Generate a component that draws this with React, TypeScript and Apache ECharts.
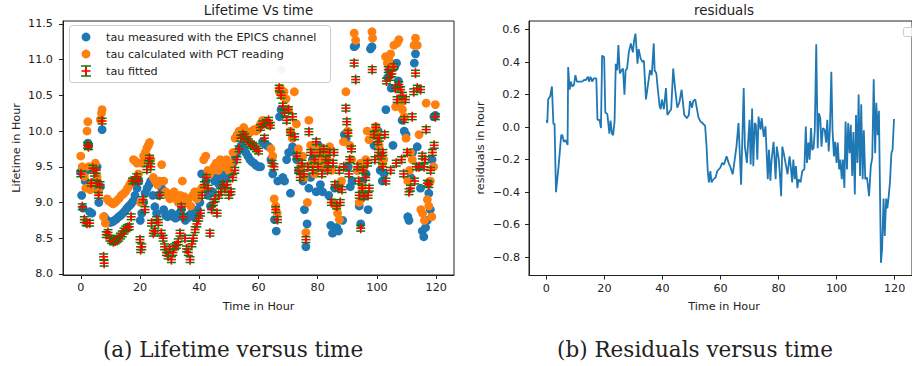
import React, { useEffect, useRef } from "react";
import * as echarts from "echarts";

// ---- data ----
const xTicks = [0, 20, 40, 60, 80, 100, 120];
const lifetimeTicks = [8.0, 8.5, 9.0, 9.5, 10.0, 10.5, 11.0, 11.5];
const residualTicks = [-0.8, -0.6, -0.4, -0.2, 0.0, 0.2, 0.4, 0.6];

const measured: [number, number][] = [
  [0, 9.43], [0.3, 9.1], [0.8, 8.92], [1.5, 9.3], [2.1, 9.45], [2.4, 9.83], [2.7, 9.8], [3.0, 8.87], [3.7, 8.85], [4.3, 9.2],
  [5.0, 9.3], [5.5, 9.5], [5.8, 9.18], [6.1, 9.0], [6.6, 9.22], [7.2, 10.02], [7.9, 8.8], [8.6, 8.76], [9.3, 8.74], [10, 8.72],
  [10.7, 8.73], [11.4, 8.75], [12.1, 8.77], [12.8, 8.8], [13.5, 8.82], [14.2, 8.85], [14.9, 8.88], [15.6, 8.92], [16.3, 8.95], [17, 8.98],
  [17.7, 9.02], [18.3, 9.1], [19, 9.2], [19.6, 9.3], [20.1, 8.75], [20.6, 8.85], [21.2, 9.0], [21.7, 9.13], [22.4, 9.2], [23.1, 9.25],
  [23.6, 9.3], [24.3, 9.1], [25, 8.94], [25.6, 8.85], [26.2, 9.1], [26.7, 9.3], [27.3, 9.2], [28, 8.9], [28.6, 8.82], [29.3, 8.8],
  [30, 8.82], [30.7, 8.85], [31.3, 8.8], [32, 8.78], [32.6, 8.82], [33.3, 8.85], [34, 8.9], [34.6, 8.8], [35.3, 8.75], [36, 8.78],
  [36.7, 8.82], [37.4, 8.85], [38, 8.8], [38.7, 8.85], [39.4, 8.9], [40.2, 9.0], [40.8, 9.4], [41.5, 9.2], [42.3, 9.3], [43, 9.1],
  [43.8, 8.95], [44.5, 9.15], [45.2, 9.3], [46, 9.35], [46.7, 9.25], [47.4, 9.3], [48.2, 9.4], [49, 9.35], [49.8, 9.45], [50.5, 9.4],
  [51.3, 9.55], [52, 9.65], [52.8, 9.7], [53.5, 9.75], [54.2, 9.8], [55, 9.75], [55.7, 9.7], [56.4, 9.65], [57.1, 9.6], [57.8, 9.57],
  [58.5, 9.55], [59.2, 9.52], [60, 9.5], [60.7, 9.5], [61.4, 9.85], [62.1, 9.82], [62.8, 9.8], [63.5, 9.78], [64.2, 9.6], [64.8, 9.4],
  [65.4, 8.76], [66, 8.6], [66.5, 9.3], [67.1, 10.2], [67.6, 10.3], [68.2, 9.35], [68.8, 9.3], [69.5, 9.6], [70.2, 9.7], [70.8, 9.13],
  [71.5, 9.78], [72.2, 9.72], [72.9, 9.6], [73.6, 9.45], [74.3, 9.5], [75, 9.3], [75.5, 8.9], [76, 8.38], [76.4, 8.7], [77, 9.2],
  [77.6, 9.35], [78.2, 9.6], [78.8, 9.7], [79.5, 9.15], [80.2, 9.8], [80.9, 9.25], [81.6, 9.15], [82.3, 9.5], [83, 9.6], [83.7, 9.1],
  [84.4, 8.68], [85, 8.57], [85.7, 9.2], [86.4, 8.65], [87, 8.6], [87.7, 9.28], [88.4, 8.75], [89, 9.95], [89.6, 9.9], [90.3, 9.5],
  [91, 9.22], [91.6, 9.3], [92.3, 11.18], [92.8, 11.2], [93.4, 9.45], [94, 8.95], [94.5, 8.7], [95.1, 9.3], [95.7, 9.55], [96.3, 9.4],
  [97, 8.9], [97.8, 11.15], [98.3, 11.18], [99, 9.8], [99.7, 9.95], [100.4, 10.0], [101.1, 9.45], [101.8, 9.3], [102.4, 9.4], [103, 10.3],
  [103.6, 10.75], [104.2, 10.85], [104.8, 10.6], [105.4, 9.8], [106, 10.9], [106.6, 10.95], [107.2, 10.7], [107.8, 10.4], [108.5, 10.15], [109.2, 10.0],
  [109.8, 9.95], [110.4, 8.8], [110.8, 8.75], [111.4, 9.35], [112, 9.7], [112.6, 10.95], [113, 11.08], [113.6, 9.78], [114.2, 9.5], [114.7, 9.2],
  [115.3, 8.6], [115.8, 8.52], [116.4, 8.65], [117, 8.75], [117.5, 9.13], [118, 8.9], [118.6, 9.6], [119.2, 10.2], [119.7, 10.22],
];
const measuredFaint: [number, number][] = [[67.7, 10.86]];

const calculated: [number, number][] = [
  [0, 9.65], [0.5, 9.5], [1.2, 9.36], [1.7, 9.2], [2.1, 10.0], [2.4, 10.13], [2.7, 9.5], [3.2, 9.18], [3.7, 9.25], [4.1, 9.5],
  [4.9, 9.55], [5.5, 9.36], [6, 9.15], [6.6, 10.16], [7.0, 10.25], [7.2, 10.3], [7.7, 8.8], [8.3, 8.71], [8.9, 9.05], [9.5, 9.02],
  [10.2, 9.0], [10.9, 8.98], [11.6, 9.0], [12.3, 9.03], [13, 9.06], [13.7, 9.1], [14.4, 9.12], [15.1, 9.15], [15.8, 9.2], [16.5, 9.25],
  [17.2, 9.3], [17.8, 9.6], [18.4, 9.58], [19, 9.55], [19.5, 9.4], [20.2, 9.0], [20.5, 9.55], [21.2, 9.65], [21.8, 9.7], [22.3, 9.76],
  [22.8, 9.8], [23.2, 9.84], [23.7, 9.6], [24.5, 9.35], [25.2, 9.3], [25.9, 9.25], [26.5, 9.3], [27.3, 9.53], [28, 9.3], [28.7, 9.15],
  [29.4, 9.1], [30.1, 9.05], [30.8, 9.1], [31.5, 9.15], [32.2, 9.05], [32.9, 9.0], [33.6, 9.1], [34.3, 9.3], [35, 9.08], [35.7, 9.0],
  [36.4, 9.05], [37.1, 8.95], [37.8, 9.1], [38.5, 9.15], [39.2, 9.05], [40, 9.15], [40.8, 9.2], [41.5, 9.6], [42.2, 9.65], [42.9, 9.45],
  [43.6, 9.4], [44.3, 9.45], [45, 9.5], [45.7, 9.55], [46.4, 9.45], [47.1, 9.6], [47.8, 9.55], [48.5, 9.5], [49.2, 9.6], [50, 9.45],
  [50.7, 9.55], [51.4, 9.7], [52.1, 9.9], [52.8, 9.95], [53.5, 10.0], [54.2, 9.98], [55, 10.05], [55.7, 10.0], [56.4, 9.95], [57.1, 9.98],
  [57.8, 10.0], [58.5, 10.02], [59.2, 10.0], [60, 10.05], [60.7, 10.1], [61.4, 10.15], [62.1, 10.1], [62.8, 10.12], [63.5, 10.08], [64.2, 9.75],
  [64.8, 9.65], [65.3, 9.05], [65.8, 8.95], [66.3, 8.85], [67, 10.55], [67.4, 10.6], [68, 10.5], [68.6, 10.55], [69.3, 10.45], [70, 10.3],
  [70.7, 10.0], [71.4, 9.9], [72.1, 10.55], [72.8, 10.1], [73.5, 9.75], [74.2, 9.5], [74.9, 9.65], [75.5, 9.35], [76, 8.58], [76.5, 9.0],
  [77, 10.15], [77.6, 9.8], [78.3, 9.55], [79, 9.4], [79.7, 9.7], [80.4, 9.75], [81.1, 9.6], [81.8, 9.5], [82.5, 9.7], [83.3, 9.6],
  [84, 9.78], [84.7, 9.45], [85.4, 9.0], [86.1, 8.95], [86.7, 8.85], [87.3, 8.76], [88, 9.3], [88.7, 9.85], [89.5, 10.55], [90.1, 10.0],
  [90.8, 9.8], [91.5, 9.6], [92.3, 11.37], [92.8, 11.27], [93.4, 9.45], [94, 9.0], [94.5, 9.55], [95, 9.22], [95.6, 9.5], [96.2, 9.6],
  [96.7, 10.0], [97.3, 9.88], [98.3, 11.39], [98.5, 11.3], [99.1, 9.95], [99.6, 10.06], [100.1, 9.97], [100.7, 9.8], [101.2, 9.64], [101.8, 9.55],
  [102.3, 9.6], [102.9, 11.04], [103.5, 10.95], [104, 11.0], [104.6, 11.08], [105.2, 10.9], [105.7, 11.2], [106.3, 10.34], [106.8, 11.23], [107.4, 11.28],
  [108, 10.39], [108.6, 10.3], [109.2, 10.2], [109.8, 9.9], [110.4, 9.3], [111, 9.45], [111.3, 9.7], [111.9, 9.6], [112.5, 11.2], [113, 11.3],
  [113.6, 11.2], [114.2, 9.95], [114.8, 8.9], [115.4, 8.85], [116, 8.75], [116.6, 10.39], [117, 9.04], [117.5, 8.95], [118, 9.3], [118.5, 8.8],
  [119.1, 9.5], [119.7, 10.37],
];

const fitted: [number, number][] = [
  [0, 9.4], [0.5, 8.94], [1.2, 8.76], [1.8, 8.72], [2.1, 8.71], [2.3, 9.8], [2.6, 9.78], [3, 8.71], [3.5, 9.27], [4.1, 9.48],
  [4.6, 9.41], [5.2, 9.45], [5.5, 9.27], [6, 9.1], [6.5, 9.25], [7.2, 10.14], [7.7, 8.24], [7.9, 8.15], [8.6, 8.55], [9.2, 8.58],
  [9.8, 8.5], [10.4, 8.47], [11, 8.45], [11.6, 8.46], [12.2, 8.48], [12.8, 8.5], [13.4, 8.53], [14, 8.56], [14.6, 8.6], [15.2, 8.63],
  [15.8, 8.65], [16.4, 8.66], [17, 8.8], [17.5, 9.3], [18.3, 9.32], [18.9, 9.36], [19.4, 9.3], [20, 8.48], [20.2, 8.34], [20.6, 8.38],
  [21, 9.04], [21.7, 8.9], [22.3, 9.46], [22.8, 9.55], [23.2, 9.62], [23.6, 9.5], [23.9, 8.71], [24.5, 8.57], [25, 8.6], [25.6, 8.76],
  [26.2, 8.72], [26.7, 9.1], [27.2, 8.57], [27.8, 8.5], [28.3, 8.38], [28.9, 8.3], [29.5, 8.25], [30, 8.35], [30.6, 8.2], [31.1, 8.3],
  [31.7, 8.38], [32.3, 8.4], [32.9, 8.45], [33.5, 8.57], [34, 8.94], [34.6, 8.8], [35.2, 8.5], [35.7, 8.35], [36.3, 8.3], [36.9, 8.2],
  [37.5, 8.42], [38, 8.5], [38.6, 8.62], [39.2, 8.7], [39.8, 8.78], [40.4, 8.85], [41, 9.1], [41.7, 9.25], [42.4, 9.35], [43, 9.2],
  [43.6, 8.57], [44.2, 8.9], [44.8, 9.0], [45.4, 9.05], [46, 8.85], [46.6, 9.1], [47.3, 9.15], [48, 9.25], [48.7, 9.2], [49.4, 9.25],
  [50, 9.1], [50.7, 9.15], [51.3, 9.35], [52, 9.45], [52.7, 9.6], [53.4, 9.75], [54, 9.9], [54.7, 9.95], [55.3, 9.92], [56, 9.88],
  [56.6, 9.85], [57.3, 9.82], [58, 9.8], [58.6, 9.78], [59.3, 9.75], [60, 9.72], [60.7, 10.05], [61.4, 10.1], [62, 9.9], [62.7, 10.12],
  [63.4, 10.15], [64, 10.08], [64.6, 9.55], [65.2, 9.5], [65.8, 8.9], [66.4, 8.76], [67, 10.6], [67.6, 10.5], [68.2, 10.35], [68.8, 10.25],
  [69.5, 10.15], [70.1, 10.3], [70.8, 9.98], [71.5, 10.2], [72.2, 9.92], [72.9, 9.65], [73.5, 9.45], [74.1, 9.35], [74.7, 9.55], [75.3, 9.4],
  [76, 8.48], [76.6, 9.5], [77, 9.99], [77.6, 9.7], [78.3, 9.45], [78.9, 9.6], [79.5, 9.85], [80.1, 9.5], [80.7, 9.7], [81.4, 9.4],
  [82, 9.75], [82.7, 9.6], [83.3, 9.45], [83.6, 9.55], [84, 9.7], [84.6, 9.0], [85.2, 9.55], [85.5, 9.7], [85.8, 9.25], [86.4, 8.95],
  [87, 9.2], [87.3, 9.45], [87.6, 9.0], [88.2, 9.18], [88.8, 9.5], [89.5, 10.32], [89.8, 10.13], [90.2, 9.97], [90.5, 9.4], [90.8, 9.6],
  [91.4, 9.75], [92.3, 10.95], [92.8, 10.72], [93.4, 9.5], [93.8, 9.3], [94, 9.1], [94.5, 8.64], [95, 9.2], [95.3, 9.45], [95.6, 9.08],
  [96.2, 9.35], [96.8, 9.55], [97, 9.1], [97.4, 9.2], [98.4, 10.86], [99, 9.95], [99.3, 9.6], [99.6, 10.05], [100.2, 9.85], [100.5, 9.7],
  [100.8, 9.9], [101.4, 9.65], [101.9, 9.5], [102, 9.7], [102.6, 9.95], [103, 9.3], [103.2, 10.7], [103.8, 10.86], [104.4, 10.75], [104.6, 9.45],
  [105, 10.8], [105.6, 10.9], [106.2, 10.6], [106.5, 9.55], [106.8, 10.44], [107.4, 10.65], [108, 10.58], [108.3, 9.6], [108.6, 10.5], [109, 9.4],
  [109.2, 10.16], [109.6, 10.44], [110.2, 9.7], [110.8, 9.15], [111.3, 9.2], [111.9, 10.2], [112.4, 10.55], [112.7, 9.3], [113, 10.81], [113.3, 9.5],
  [113.6, 10.6], [114.2, 9.5], [114.7, 10.58], [115.3, 9.65], [115.9, 9.5], [116.2, 9.6], [116.6, 10.02], [117, 9.27], [117.5, 9.25], [118.1, 9.45],
  [118.7, 9.7], [119.3, 9.8], [119.7, 10.2],
];
const fitError = 0.04;

const residuals: [number, number][] = [
  [0.1, 0.045], [0.3, 0.025], [0.6, 0.17], [1.3, 0.19], [1.9, 0.25], [2.4, 0.02], [2.8, 0.02], [3.3, -0.4], [4.2, -0.24], [5.1, -0.05],
  [5.5, -0.05], [6.0, -0.09], [6.6, -0.08], [7.3, -0.11], [7.5, 0.37], [8.0, 0.23], [8.4, 0.28], [8.9, 0.25], [9.5, 0.26], [10.0, 0.32],
  [10.5, 0.28], [11.4, 0.28], [12.3, 0.28], [13.0, 0.29], [13.6, 0.29], [14.3, 0.31], [14.7, 0.28], [15.2, 0.31], [15.8, 0.28], [16.3, 0.3],
  [17.2, 0.3], [17.6, 0.045], [18.3, 0.045], [18.8, -0.006], [19.2, 0.44], [19.9, 0.43], [20.3, 0.09], [21.0, 0.08], [21.7, -0.04], [22.1, 0.04],
  [22.6, -0.04], [23.0, -0.05], [23.5, 0.04], [23.9, 0.39], [24.4, 0.35], [24.8, 0.505], [25.3, 0.33], [25.9, 0.35], [26.4, 0.36], [26.9, 0.2],
  [27.3, 0.35], [27.8, 0.36], [28.4, 0.46], [29.1, 0.515], [29.8, 0.46], [30.2, 0.53], [30.7, 0.575], [31.4, 0.39], [31.8, 0.48], [32.5, 0.42],
  [33.2, 0.4], [33.6, 0.41], [34.3, 0.17], [35.0, 0.26], [35.7, 0.35], [36.3, 0.32], [37.0, 0.515], [37.3, 0.35], [37.9, 0.33], [38.3, 0.25],
  [39.0, 0.13], [39.4, 0.11], [39.8, 0.17], [40.5, 0.11], [41.2, 0.24], [41.7, 0.075], [42.4, 0.095], [43.0, 0.11], [43.7, 0.36], [44.4, 0.23],
  [45.1, 0.12], [45.8, 0.15], [46.6, 0.23], [47.5, 0.075], [48.4, 0.055], [49.1, 0.075], [49.5, 0.16], [50.2, 0.12], [50.6, 0.16], [51.3, 0.17],
  [52.0, 0.1], [52.4, 0.06], [53.1, 0.035], [53.8, 0.025], [54.7, 0.008], [55.2, -0.12], [55.6, -0.27], [56.0, -0.34], [56.5, -0.27], [56.9, -0.34],
  [57.6, -0.32], [58.3, -0.31], [58.9, -0.27], [59.9, -0.25], [60.6, -0.22], [61.2, -0.23], [62.1, -0.18], [62.8, -0.22], [63.5, -0.25], [64.2, -0.29],
  [64.9, -0.2], [65.5, -0.12], [66.2, 0.025], [66.6, -0.14], [67.1, -0.355], [68.0, 0.24], [68.4, -0.12], [69.1, -0.22], [69.5, -0.1], [70.0, 0.045],
  [70.4, -0.23], [70.9, 0.115], [71.3, -0.24], [71.8, 0.025], [72.2, 0.015], [72.7, -0.2], [73.1, 0.065], [73.8, -0.016], [74.2, 0.055], [74.9, -0.06],
  [75.5, 0.005], [76.3, -0.32], [76.7, -0.14], [77.2, -0.33], [77.6, -0.2], [78.3, -0.09], [79.0, -0.32], [79.4, -0.12], [80.1, -0.2], [80.5, -0.3],
  [80.9, -0.425], [81.3, -0.12], [81.8, -0.16], [82.4, -0.22], [83.1, -0.29], [83.8, -0.18], [84.2, -0.24], [84.7, -0.34], [85.1, -0.2], [85.6, -0.32],
  [86.0, -0.24], [86.5, -0.375], [86.9, -0.32], [87.6, -0.34], [88.2, -0.27], [88.9, -0.26], [89.4, 0.004], [89.8, -0.22], [90.3, -0.095], [90.7, -0.2],
  [91.2, -0.006], [91.6, -0.14], [92.1, -0.13], [92.5, -0.016], [93.0, 0.51], [93.5, -0.13], [93.9, 0.085], [94.4, 0.055], [94.8, -0.12], [95.3, -0.006],
  [95.9, -0.016], [96.4, -0.095], [96.8, 0.045], [97.3, -0.15], [97.7, -0.016], [98.2, 0.34], [98.6, -0.016], [99.1, -0.18], [99.5, -0.09], [100.0, -0.22],
  [100.4, -0.095], [100.9, -0.26], [101.3, -0.2], [101.8, -0.32], [102.2, -0.2], [102.7, -0.375], [103.1, 0.035], [103.6, -0.26], [104.0, 0.025], [104.5, -0.16],
  [104.9, 0.015], [105.4, -0.3], [105.8, -0.03], [106.3, -0.415], [106.7, 0.075], [107.2, -0.22], [107.6, 0.2], [108.1, -0.3], [108.5, 0.14], [109.0, -0.32],
  [109.4, -0.02], [109.9, -0.32], [110.5, -0.31], [111.2, -0.425], [111.8, -0.24], [112.3, -0.19], [112.8, 0.295], [113.3, -0.16], [113.7, 0.15], [114.2, -0.05],
  [114.6, 0.1], [115.3, -0.835], [115.7, -0.75], [116.2, -0.44], [116.6, -0.67], [117.1, -0.44], [117.5, -0.5], [118.0, -0.42], [118.4, -0.34], [118.9, -0.16],
  [119.3, -0.14], [119.8, 0.05],
];

// ---- styling ----
const BLUE = "#1f77b4";
const ORANGE = "#ff7f0e";
const TXT = "#222";
const SANS = "DejaVu Sans";
const FS = 11.2;

function fmtMinus(v: number) {
  const s = Math.abs(v) < 1e-9 ? "0.0" : v.toFixed(1);
  return s.replace("-", "\u2212");
}

export default function App() {
  const ref = useRef<HTMLDivElement>(null);

  useEffect(() => {
    if (!ref.current) return;
    const chart = echarts.init(ref.current, null, { renderer: "svg" });

    const axisCommon = {
      axisLine: { show: true, onZero: false, lineStyle: { color: "#222", width: 1 } },
      axisTick: { show: true, length: 4, lineStyle: { color: "#222", width: 1 } },
      splitLine: { show: false },
    };
    const labelCommon = { color: TXT, fontSize: FS, fontFamily: SANS };

    const errRender = (params: any, api: any) => {
      const x = api.value(0);
      const y = api.value(1);
      const c = api.coord([x, y]);
      const top = api.coord([x, y + fitError])[1];
      const bot = api.coord([x, y - fitError])[1];
      const green = { stroke: "#008000", lineWidth: 1.5 };
      const red = { stroke: "#ff0000", lineWidth: 1.6 };
      return {
        type: "group",
        children: [
          { type: "line", shape: { x1: c[0], y1: top, x2: c[0], y2: bot }, style: green },
          { type: "line", shape: { x1: c[0] - 4.5, y1: top, x2: c[0] + 4.5, y2: top }, style: green },
          { type: "line", shape: { x1: c[0] - 4.5, y1: bot, x2: c[0] + 4.5, y2: bot }, style: green },
          { type: "line", shape: { x1: c[0] - 4.5, y1: c[1], x2: c[0] + 4.5, y2: c[1] }, style: red },
          { type: "line", shape: { x1: c[0], y1: c[1] - 5, x2: c[0], y2: c[1] + 5 }, style: red },
        ],
      };
    };

    const legendZ = 100;
    const txt = (text: string, x: number, y: number) => ({
      type: "text",
      z: legendZ,
      x,
      y,
      style: { text, fill: TXT, fontSize: FS, fontFamily: SANS, align: "left", verticalAlign: "middle" },
    });
    const centered = (text: string, x: number, y: number, size: number, family: string, rotation = 0) => ({
      type: "text",
      x,
      y,
      rotation,
      style: { text, fill: TXT, fontSize: size, fontFamily: family, align: "center", verticalAlign: "middle" },
    });

    chart.setOption({
      animation: false,
      backgroundColor: "#fff",
      grid: [
        { left: 63, top: 21, width: 391, height: 254, show: true, borderColor: "#222", borderWidth: 1, backgroundColor: "transparent" },
        { left: 529, top: 21, width: 391, height: 254.5, show: true, borderColor: "#222", borderWidth: 1, backgroundColor: "transparent" },
      ],
      xAxis: [0, 1].map((i) => ({
        type: "value", gridIndex: i, min: -6, max: 126, ...axisCommon,
        axisTick: { ...axisCommon.axisTick, customValues: xTicks },
        axisLabel: { ...labelCommon, margin: 7, customValues: xTicks, formatter: (v: number) => String(v) },
      })),
      yAxis: [
        {
          type: "value", gridIndex: 0, min: 7.985, max: 11.54, ...axisCommon,
          axisTick: { ...axisCommon.axisTick, customValues: lifetimeTicks },
          axisLabel: { ...labelCommon, margin: 10, customValues: lifetimeTicks, formatter: (v: number) => v.toFixed(1) },
        },
        {
          type: "value", gridIndex: 1, min: -0.913, max: 0.653, ...axisCommon,
          axisTick: { ...axisCommon.axisTick, customValues: residualTicks },
          axisLabel: { ...labelCommon, margin: 9, customValues: residualTicks, formatter: (v: number) => fmtMinus(v) },
        },
      ],
      series: [
        {
          type: "scatter", name: "tau measured with the EPICS channel", xAxisIndex: 0, yAxisIndex: 0,
          data: measured, symbol: "circle", symbolSize: 8.8, itemStyle: { color: BLUE, opacity: 1 }, z: 2,
        },
        {
          type: "scatter", name: "measured faint", xAxisIndex: 0, yAxisIndex: 0,
          data: measuredFaint, symbol: "circle", symbolSize: 8.8, itemStyle: { color: BLUE, opacity: 0.25 }, z: 2,
        },
        {
          type: "scatter", name: "tau calculated with PCT reading", xAxisIndex: 0, yAxisIndex: 0,
          data: calculated, symbol: "circle", symbolSize: 8.8, itemStyle: { color: ORANGE, opacity: 1 }, z: 3,
        },
        {
          type: "custom", name: "tau fitted", xAxisIndex: 0, yAxisIndex: 0, coordinateSystem: "cartesian2d",
          data: fitted, encode: { x: 0, y: 1 }, renderItem: errRender, z: 4, clip: true,
        },
        {
          type: "line", name: "residuals", xAxisIndex: 1, yAxisIndex: 1, data: residuals,
          showSymbol: false, symbol: "none", lineStyle: { color: BLUE, width: 1.8 }, z: 2,
        },
      ],
      graphic: [
        centered("Lifetime Vs time", 258.5, 10, 13.4, SANS),
        centered("residuals", 724, 10, 13.4, SANS),
        centered("Time in Hour", 258.5, 306, FS, SANS),
        centered("Time in Hour", 724, 306, FS, SANS),
        centered("Lifetime in Hour", 16, 148, FS, SANS, Math.PI / 2),
        centered("residuals in hour", 480, 148, FS, SANS, Math.PI / 2),
        centered("(a) Lifetime versus time", 233, 349, 21.5, "DejaVu Serif"),
        centered("(b) Residuals versus time", 695, 349, 21.5, "DejaVu Serif"),
        // legend (left)
        { type: "rect", z: legendZ, shape: { x: 69.5, y: 25.5, width: 261, height: 57, r: 3 }, style: { fill: "rgba(255,255,255,0.8)", stroke: "#ccc", lineWidth: 1 } },
        { type: "circle", z: legendZ, shape: { cx: 86, cy: 37, r: 4.4 }, style: { fill: BLUE } },
        { type: "circle", z: legendZ, shape: { cx: 86, cy: 54, r: 4.4 }, style: { fill: ORANGE } },
        { type: "line", z: legendZ, shape: { x1: 86, y1: 66, x2: 86, y2: 76 }, style: { stroke: "#008000", lineWidth: 1.5 } },
        { type: "line", z: legendZ, shape: { x1: 81, y1: 66, x2: 91, y2: 66 }, style: { stroke: "#008000", lineWidth: 1.5 } },
        { type: "line", z: legendZ, shape: { x1: 81, y1: 76, x2: 91, y2: 76 }, style: { stroke: "#008000", lineWidth: 1.5 } },
        { type: "line", z: legendZ, shape: { x1: 81.5, y1: 71, x2: 90.5, y2: 71 }, style: { stroke: "#ff0000", lineWidth: 1.6 } },
        { type: "line", z: legendZ, shape: { x1: 86, y1: 66.5, x2: 86, y2: 75.5 }, style: { stroke: "#ff0000", lineWidth: 1.6 } },
        txt("tau measured with the EPICS channel", 106, 37),
        txt("tau calculated with PCT reading", 106, 54),
        txt("tau fitted", 106, 71),
        // empty legend (right)
        { type: "rect", z: legendZ, shape: { x: 903.5, y: 27.5, width: 14, height: 9, r: 2 }, style: { fill: "rgba(255,255,255,0.8)", stroke: "#ccc", lineWidth: 1 } },
      ],
    });

    return () => chart.dispose();
  }, []);

  return <div ref={ref} style={{ position: "fixed", left: 0, top: 0, width: 912, height: 366 }} />;
}
